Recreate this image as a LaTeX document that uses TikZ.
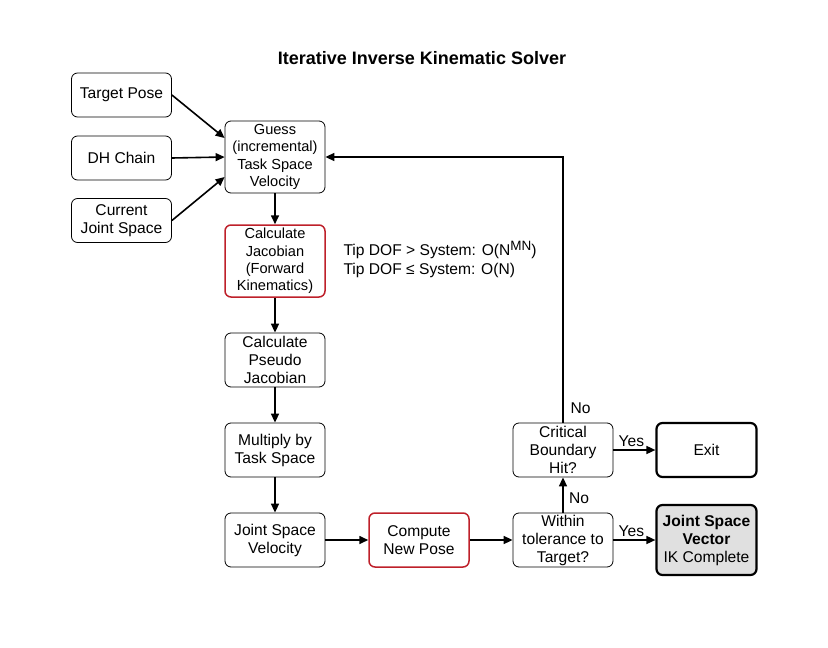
\documentclass[tikz,border=0pt]{standalone}
\usepackage{fontspec}
\setmainfont{Liberation Sans}
\usetikzlibrary{arrows.meta}
\definecolor{boxred}{RGB}{190,32,42}
\definecolor{donegray}{RGB}{224,224,224}

\begin{document}
\begin{tikzpicture}[x=1pt,y=-1pt,
  every node/.style={font=\fontsize{15.6}{18}\selectfont},
  box/.style={draw,rounded corners=6pt,align=center,minimum width=100pt,minimum height=54pt,inner sep=0pt,line width=0.8pt},
  tallbox/.style={box,minimum height=72pt,font=\fontsize{14.6}{17.4}\selectfont},
  redline/.style={draw=boxred,line width=1.5pt},
  endbox/.style={box,line width=2.2pt},
  flow/.style={-{Triangle[length=9pt,width=8pt]},line width=1.6pt}]
\useasboundingbox (0,0) rectangle (828,648);
\node[font=\bfseries\fontsize{18}{22}\selectfont] (title) at (422,58) {Iterative Inverse Kinematic Solver};
% inputs
\node[box,minimum height=44pt] (target) at (121.5,95) {Target Pose};
\node[box,minimum height=44pt] (dh) at (121.5,158) {DH Chain};
\node[box,minimum height=44pt] (current) at (121.5,220.5) {Current\\Joint Space};
% main chain
\node[tallbox] (guess) at (275,157) {Guess\\(incremental)\\Task Space\\Velocity};
\node[tallbox,redline] (jacob) at (275,261) {Calculate\\Jacobian\\(Forward\\Kinematics)};
\node[box] (pseudo) at (275,360) {Calculate\\Pseudo\\Jacobian};
\node[box] (multiply) at (275,450) {Multiply by\\Task Space};
\node[box] (jsv) at (275,540) {Joint Space\\Velocity};
\node[box,redline] (newpose) at (419,540) {Compute\\New Pose};
\node[box] (within) at (563,540) {Within\\tolerance to\\Target?};
\node[box] (crit) at (563,450) {Critical\\Boundary\\Hit?};
\node[endbox] (exit) at (706.5,450) {Exit};
\node[endbox,fill=donegray,minimum height=70pt] (done) at (706.5,540) {\textbf{Joint Space}\\\textbf{Vector}\\IK Complete};
\node[anchor=west,align=left,font=\fontsize{15.6}{19}\selectfont] (cost) at (340,259.5) {Tip DOF > System: O(N\raisebox{5pt}{\fontsize{13.5}{13.5}\selectfont MN})\\Tip DOF ≤ System: O(N)};

\draw[flow] (target.east) -- ([yshift=19pt]guess.west);
\draw[flow] (dh.east) -- (guess.west);
\draw[flow] (current.east) -- ([yshift=-20pt]guess.west);
\draw[flow] (guess) -- (jacob);
\draw[flow] (jacob) -- (pseudo);
\draw[flow] (pseudo) -- (multiply);
\draw[flow] (multiply) -- (jsv);
\draw[flow] (jsv) -- (newpose);
\draw[flow] (newpose) -- (within);
\draw[flow] (within) -- node[right,xshift=2pt,yshift=-3pt] {No} (crit);
\draw[flow] (within) -- node[above,yshift=-1pt,xshift=-3pt] {Yes} (done);
\draw[flow] (crit) -- node[above,yshift=-1pt,xshift=-3pt] {Yes} (exit);
\draw[flow] (crit.north) |- (guess.east);
\node[anchor=west] (nolabel) at (567,408) {No};
\end{tikzpicture}
\end{document}
